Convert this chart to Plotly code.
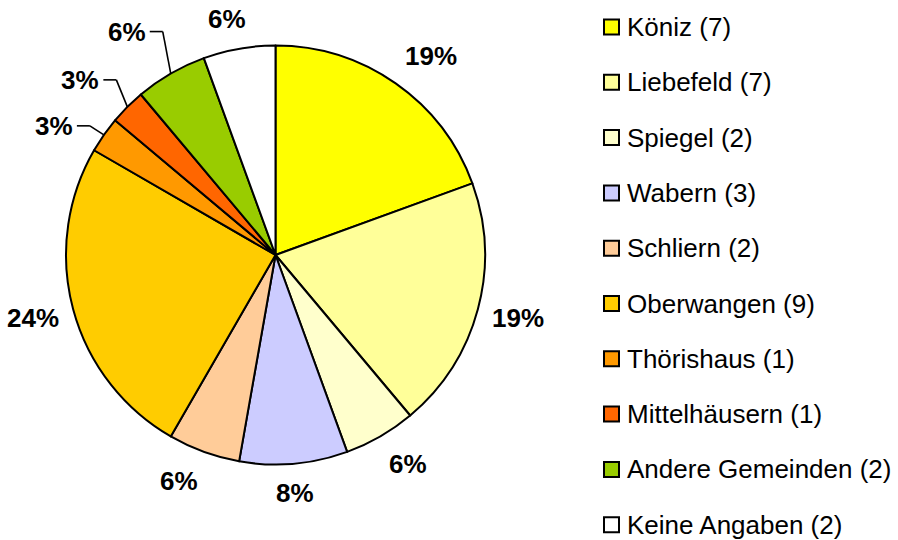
import math
import plotly.graph_objects as go

labels = ["Köniz", "Liebefeld", "Spiegel", "Wabern", "Schliern", "Oberwangen",
          "Thörishaus", "Mittelhäusern", "Andere Gemeinden", "Keine Angaben"]
counts = [7, 7, 2, 3, 2, 9, 1, 1, 2, 2]
pct_labels = ["19%", "19%", "6%", "8%", "6%", "24%", "3%", "3%", "6%", "6%"]
colors = ["#FFFF00", "#FFFF99", "#FFFFCC", "#CCCCFF", "#FFCC99", "#FFCC00",
          "#FF9900", "#FF6600", "#99CC00", "#FFFFFF"]

W, H = 898, 540
CX, CY, R = 275.5, 255.0, 209.5
FONT = "Arial, Liberation Sans, sans-serif"
FS = 26

# leader-line offsets (pixels) for small slices: edge -> elbow
leader = {"Thörishaus": (-14, -9), "Mittelhäusern": (-11, -27), "Andere Gemeinden": (-8, -42)}


def px(x):
    return x / W


def py(y):
    return 1 - y / H


fig = go.Figure(go.Pie(
    labels=labels, values=counts, sort=False, direction="clockwise", rotation=0,
    marker=dict(colors=colors, line=dict(color="black", width=2)),
    textinfo="none", hoverinfo="label+value", showlegend=False,
    domain=dict(x=[px(CX - R), px(CX + R)], y=[py(CY + R), py(CY - R)]),
))

annotations = []
shapes = []
total = sum(counts)
cum = 0
for lab, v, pct in zip(labels, counts, pct_labels):
    theta = math.radians((cum + v / 2) / total * 360)
    cum += v
    s, c = math.sin(theta), math.cos(theta)
    if lab in leader:
        ex, ey = CX + R * s, CY - R * c
        bx, by = ex + leader[lab][0], ey + leader[lab][1]
        hx = bx - 13
        shapes.append(dict(type="line", xref="paper", yref="paper",
                           x0=px(ex), y0=py(ey), x1=px(bx), y1=py(by),
                           line=dict(color="black", width=1.6)))
        shapes.append(dict(type="line", xref="paper", yref="paper",
                           x0=px(bx), y0=py(by), x1=px(hx), y1=py(by),
                           line=dict(color="black", width=1.6)))
        annotations.append(dict(x=px(hx - 2), y=py(by), xref="paper", yref="paper",
                                text=f"<b>{pct}</b>", showarrow=False,
                                xanchor="right", yanchor="middle",
                                font=dict(family=FONT, size=FS, color="black")))
    else:
        rr = 222
        ax, ay = CX + rr * s, CY - rr * c
        xa = "left" if s > 0.2 else ("right" if s < -0.2 else "center")
        ya = "bottom" if c > 0.2 else ("top" if c < -0.3 else "middle")
        yshift = -6 if ya == "middle" else 0
        xshift = -10 if (xa == "center" and s < -0.1) else 0
        annotations.append(dict(x=px(ax), y=py(ay), xref="paper", yref="paper",
                                text=f"<b>{pct}</b>", showarrow=False,
                                xanchor=xa, yanchor=ya, yshift=yshift, xshift=xshift,
                                font=dict(family=FONT, size=FS, color="black")))

# manual legend
for i, (lab, v, col) in enumerate(zip(labels, counts, colors)):
    yc = 27 + 55.3 * i
    shapes.append(dict(type="rect", xref="paper", yref="paper",
                       x0=px(604), x1=px(619), y0=py(yc - 7.5), y1=py(yc + 7.5),
                       fillcolor=col, line=dict(color="black", width=2)))
    annotations.append(dict(x=px(625), y=py(yc), xref="paper", yref="paper",
                            text=f"{lab} ({v})", showarrow=False,
                            xanchor="left", yanchor="middle",
                            font=dict(family=FONT, size=FS, color="black")))

fig.update_layout(
    width=W, height=H, margin=dict(l=0, r=0, t=0, b=0),
    paper_bgcolor="white", plot_bgcolor="white",
    annotations=annotations, shapes=shapes, showlegend=False,
)

fig.write_html("out.html", config={"displayModeBar": False},
               post_script="document.body.style.margin='0px';document.body.style.overflow='hidden';")
